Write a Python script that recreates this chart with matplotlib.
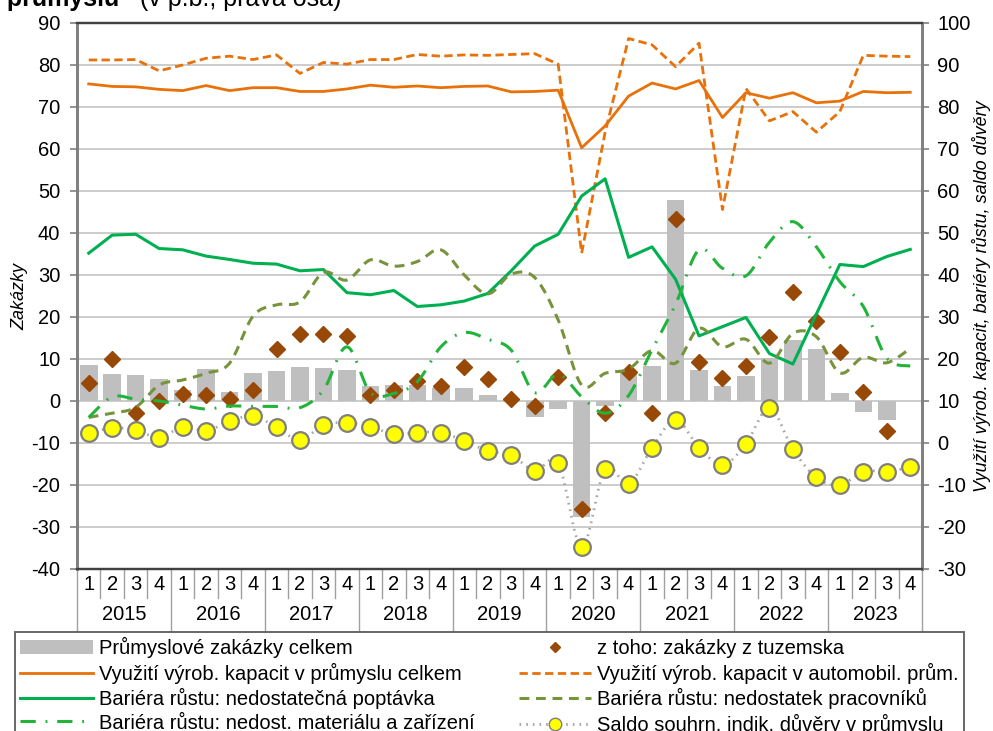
import numpy as np
import matplotlib.pyplot as plt
from matplotlib.patches import Patch
from matplotlib.lines import Line2D

plt.rcParams['font.family'] = ['Liberation Sans', 'DejaVu Sans']
plt.rcParams['axes.unicode_minus'] = False

years = ['2015', '2016', '2017', '2018', '2019', '2020', '2021', '2022', '2023']
quarters = ['1', '2', '3', '4']

# left axis (zakazky)
orders_total = [8.5, 6.4, 6.1, 5.2, 2.7, 7.6, 2.1, 6.7, 7.2, 8.2, 7.9, 7.4,
                3.5, 3.8, 3.8, 3.2, 3.2, 1.4, 0.2, -3.7, -2.0, -27.5, -1.2, 7.2,
                8.4, 47.9, 7.4, 3.6, 6.0, 10.2, 14.5, 12.3, 1.8, -2.7, -4.5, np.nan]
orders_domestic = [4.4, 9.9, -2.8, -0.1, 1.6, 1.4, 0.4, 2.6, 12.5, 15.9, 15.9, 15.5,
                   1.5, 2.6, 4.8, 3.6, 8.2, 5.2, 0.4, -1.3, 5.6, -25.8, -2.9, 7.0,
                   -2.8, 43.4, 9.4, 5.4, 8.3, 15.2, 26.0, 19.1, 11.6, 2.2, -7.1, np.nan]

# right axis
capacity_total = [85.5, 84.9, 84.8, 84.2, 83.9, 85.1, 83.9, 84.6, 84.6, 83.7, 83.7, 84.3,
                  85.2, 84.7, 85.0, 84.6, 84.9, 85.0, 83.6, 83.7, 84.0, 70.3, 75.5, 82.6,
                  85.7, 84.3, 86.3, 77.5, 83.4, 82.1, 83.4, 81.0, 81.4, 83.7, 83.4, 83.5]
capacity_auto = [91.2, 91.2, 91.3, 88.6, 90.0, 91.6, 92.1, 91.3, 92.4, 88.0, 90.6, 90.2,
                 91.3, 91.3, 92.5, 92.1, 92.4, 92.3, 92.5, 92.7, 90.2, 45.2, 74.0, 96.3,
                 94.8, 89.6, 95.2, 55.6, 84.4, 76.7, 78.9, 74.0, 78.9, 92.3, 92.1, 92.0]
barrier_demand = [45.2, 49.5, 49.7, 46.3, 46.0, 44.5, 43.7, 42.8, 42.6, 41.0, 41.3, 35.8,
                  35.3, 36.3, 32.5, 32.9, 33.8, 35.6, 41.0, 46.9, 49.7, 58.8, 62.9, 44.2,
                  46.7, 39.0, 25.5, 27.7, 29.9, 21.3, 18.8, 30.7, 42.5, 42.0, 44.4, 46.1]
barrier_labour = [6.1, 7.1, 8.5, 13.8, 15.0, 16.6, 19.0, 30.2, 32.9, 33.6, 40.6, 38.8,
                  43.6, 42.1, 43.2, 46.0, 40.0, 35.5, 40.2, 39.4, 29.3, 13.8, 16.6, 17.6,
                  22.0, 19.0, 27.3, 22.9, 24.7, 19.0, 26.1, 25.3, 16.7, 20.4, 19.1, 22.5]
barrier_material = [6.1, 11.0, 10.4, 10.0, 9.0, 8.1, 8.8, 8.7, 8.7, 8.4, 12.6, 22.9,
                    12.0, 11.8, 14.6, 22.9, 26.3, 24.7, 22.1, 12.0, 16.4, 11.0, 7.1, 11.3,
                    22.2, 33.0, 46.0, 41.6, 39.8, 47.8, 52.7, 46.7, 38.4, 32.5, 20.2, 18.3]
confidence = [2.5, 3.5, 3.2, 1.2, 3.9, 2.9, 5.2, 6.4, 3.8, 0.7, 4.3, 4.8,
              3.9, 2.1, 2.5, 2.5, 0.5, -1.9, -2.9, -6.6, -4.8, -24.8, -6.2, -9.8,
              -1.1, 5.5, -1.1, -5.2, -0.2, 8.4, -1.5, -8.2, -10.0, -6.8, -6.8, -5.8]


def smooth(x, y, n=16):
    # bezier smoothing like excel "smoothed line"
    x = np.asarray(x, float)
    y = np.asarray(y, float)
    px = np.r_[x[0], x, x[-1]]
    py = np.r_[y[0], y, y[-1]]
    t = np.linspace(0, 1, n, endpoint=False)[:, None]
    out = []
    for i in range(1, len(px) - 2):
        p0 = np.array([px[i - 1], py[i - 1]])
        p1 = np.array([px[i], py[i]])
        p2 = np.array([px[i + 1], py[i + 1]])
        p3 = np.array([px[i + 2], py[i + 2]])
        c1 = p1 + (p2 - p0) / 6
        c2 = p2 - (p3 - p1) / 6
        seg = ((1 - t) ** 3) * p1 + 3 * ((1 - t) ** 2) * t * c1 + 3 * (1 - t) * t ** 2 * c2 + t ** 3 * p2
        out.append(seg)
    out.append(np.array([[x[-1], y[-1]]]))
    out = np.vstack(out)
    return out[:, 0], out[:, 1]


n = len(capacity_total)
x = np.arange(n) + 0.5

ORANGE = '#E8710A'
GREEN = '#00B050'
OLIVE = '#77933C'
LGREEN = '#22B43A'
BROWN = '#984807'
FS = 14.5

fig = plt.figure(figsize=(9.93, 7.31), dpi=100)
ax = fig.add_axes([77 / 993, 1 - 569 / 731, 845 / 993, 546 / 731])
ax2 = ax.twinx()

# bars + diamonds on left axis
ax.bar(x, orders_total, width=0.75, color='#BFBFBF', zorder=2)
ax.plot(x, orders_domestic, linestyle='none', marker='D', markersize=8,
        color=BROWN, zorder=3)

ax.set_xlim(0, n)
ax.set_ylim(-40, 90)
ax.set_yticks(np.arange(-40, 91, 10))
ax.grid(axis='y', color='#C8C8C8', linewidth=1.3, zorder=0)
ax.set_axisbelow(True)
ax.set_xticks([])
ax.tick_params(axis='y', labelsize=FS, length=5, width=1.2, color='#808080', pad=7)

ax2.set_ylim(-30, 100)
ax2.set_yticks(np.arange(-30, 101, 10))
ax2.tick_params(axis='y', labelsize=FS, length=5, width=1.2, color='#808080', pad=6)

for a in (ax, ax2):
    a.spines['left'].set_color('#808080')
    a.spines['right'].set_color('#808080')
    a.spines['left'].set_linewidth(2)
    a.spines['right'].set_linewidth(2)
    a.spines['top'].set_color('#404040')
    a.spines['top'].set_linewidth(1.6)
    a.spines['bottom'].set_color('#404040')
    a.spines['bottom'].set_linewidth(1.6)

# lines on right axis
ax2.plot(x, capacity_total, color=ORANGE, linewidth=2.0, zorder=4)
ax2.plot(x, capacity_auto, color=ORANGE, linewidth=2.0, dashes=(3, 1.6), zorder=4)
ax2.plot(x, barrier_demand, color=GREEN, linewidth=2.2, zorder=4)
sx, sy = smooth(x, barrier_labour)
ax2.plot(sx, sy, color=OLIVE, linewidth=2.2, dashes=(3.2, 2.2), zorder=4)
sx, sy = smooth(x, barrier_material)
ax2.plot(sx, sy, color=LGREEN, linewidth=2.2, dashes=(5, 3.2, 0.6, 3.2), zorder=4)
sx, sy = smooth(x, confidence)
ax2.plot(sx, sy, color='#A6A6A6', linewidth=2.0, dashes=(0.6, 1.8), zorder=5)
ax2.plot(x, confidence, linestyle='none', marker='o', markersize=12,
         markerfacecolor='#FFFF00', markeredgecolor='#7F7F7F', markeredgewidth=1.6, zorder=6)

# category axis drawn like a table
tr = ax.get_xaxis_transform()
h = 546.0
for i in range(n + 1):
    depth = 61 if i % 4 == 0 else 29
    ax.plot([i, i], [0, -depth / h], transform=tr, color='#A0A0A0',
            linewidth=1.0, clip_on=False)
for i in range(n):
    ax.text(i + 0.5, -16 / h, quarters[i % 4], transform=tr, ha='center',
            va='center', fontsize=FS)
for k, yr in enumerate(years):
    ax.text(4 * k + 2, -46 / h, yr, transform=tr, ha='center', va='center', fontsize=FS)

ax.set_ylabel('Zakázky', fontsize=13, style='italic', labelpad=2)
ax2.set_ylabel('Využití výrob. kapacit, bariéry růstu, saldo důvěry',
               fontsize=13, style='italic', labelpad=1)

# title, cut by the top edge as in the source
fig.text(-14 / 993, 1 - 6 / 731, 'v průmyslu', fontsize=18, fontweight='bold', va='baseline')
fig.text(140 / 993, 1 - 6 / 731, '(v p.b., pravá osa)', fontsize=18, va='baseline')

handles = [
    Patch(facecolor='#BFBFBF', edgecolor='none'),
    Line2D([], [], color=ORANGE, linewidth=2.0),
    Line2D([], [], color=GREEN, linewidth=2.2),
    Line2D([], [], color=LGREEN, linewidth=2.2, dashes=(5, 3.2, 0.6, 3.2)),
    Line2D([], [], linestyle='none', marker='D', markersize=5, color=BROWN),
    Line2D([], [], color=ORANGE, linewidth=2.0, dashes=(3, 1.6)),
    Line2D([], [], color=OLIVE, linewidth=2.2, dashes=(3.2, 2.2)),
    Line2D([], [], color='#A6A6A6', linewidth=2.0, dashes=(0.6, 1.8), marker='o',
           markersize=9, markerfacecolor='#FFFF00', markeredgecolor='#7F7F7F'),
]
labels = [
    'Průmyslové zakázky celkem',
    'Využití výrob. kapacit v průmyslu celkem',
    'Bariéra růstu: nedostatečná poptávka',
    'Bariéra růstu: nedost. materiálu a zařízení',
    'z toho: zakázky z tuzemska',
    'Využití výrob. kapacit v automobil. prům.',
    'Bariéra růstu: nedostatek pracovníků',
    'Saldo souhrn. indik. důvěry v průmyslu',
]
leg = fig.legend(handles, labels, ncol=2, loc='upper left',
                 bbox_to_anchor=(15 / 993, 1 - 632 / 731), fontsize=FS,
                 handlelength=3.6, handletextpad=0.3, columnspacing=2.2,
                 labelspacing=0.22, borderpad=0.25, borderaxespad=0,
                 frameon=True, fancybox=False)
leg.get_frame().set_edgecolor('#404040')
leg.get_frame().set_linewidth(1.4)

fig.savefig('out.png', dpi=100)
